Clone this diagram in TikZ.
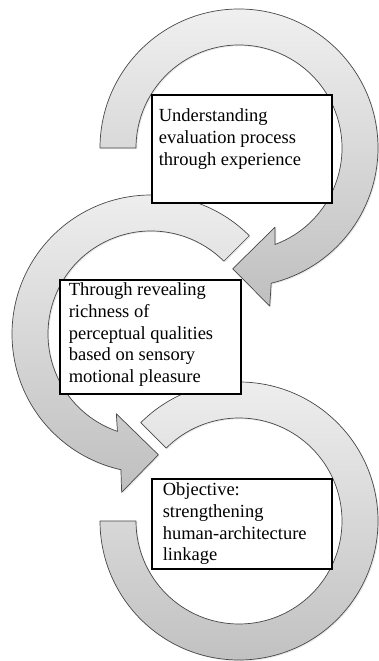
\documentclass[tikz,border=0pt]{standalone}
\usepackage{fontspec}
\setmainfont{Liberation Serif}
\usetikzlibrary{calc,shadows}
\begin{document}
\begin{tikzpicture}[x=1pt,y=1pt,
  band/.style={draw=black!72, line width=0.7pt, top color=black!6, bottom color=black!25,
    line join=round, drop shadow={opacity=0.18, shadow xshift=1.2pt, shadow yshift=-1.2pt}},
  txtbox/.style={draw=black, line width=1.6pt, fill=white, anchor=north west,
    inner ysep=0pt, font=\fontsize{18.5}{21.7}\selectfont}]
\useasboundingbox (0,0) rectangle (379,661);
\coordinate (c1) at (239,513);
\coordinate (c2) at (151,327);
\coordinate (c3) at (239,140);

% arrow 1 (top)
\path[band] ($(c1)+(180:139)$) arc[start angle=180, end angle=-76.6, radius=139]
  -- ($(c1)+(-79:161)$) -- ($(c1)+(-93:121)$) -- ($(c1)+(-65.5:87)$)
  -- ($(c1)+(-69.5:103)$) arc[start angle=-69.5, end angle=180, radius=103] -- cycle;

% arrow 2 (middle)
\path[band] ($(c2)+(45:139)$) arc[start angle=45, end angle=257.5, radius=139]
  -- ($(c2)+(259.5:161)$) -- ($(c2)+(273.5:121)$) -- ($(c2)+(246.5:87)$)
  -- ($(c2)+(251:103)$) arc[start angle=251, end angle=45, radius=103] -- cycle;

% arrow 3 (bottom)
\path[band] ($(c3)+(135:139)$) arc[start angle=135, end angle=-180, radius=139]
  -- ($(c3)+(180:103)$) arc[start angle=-180, end angle=135, radius=103] -- cycle;

% text boxes
\node[txtbox, inner xsep=7pt] (box1) at (151,567)
  {\parbox[c][108pt][t]{166pt}{\raggedright\rule{0pt}{27pt}Understanding\\evaluation process\\through experience}};
\node[txtbox, inner xsep=9pt] (box2) at (59,382)
  {\parbox[c][114pt][t]{163pt}{\raggedright\rule{0pt}{16pt}Through revealing\\richness of\\perceptual qualities\\based on sensory\\motional pleasure}};
\node[txtbox, inner xsep=11pt] (box3) at (151,183)
  {\parbox[c][90pt][t]{158pt}{\raggedright\rule{0pt}{17pt}Objective:\\strengthening\\human-architecture\\linkage}};
\end{tikzpicture}
\end{document}
